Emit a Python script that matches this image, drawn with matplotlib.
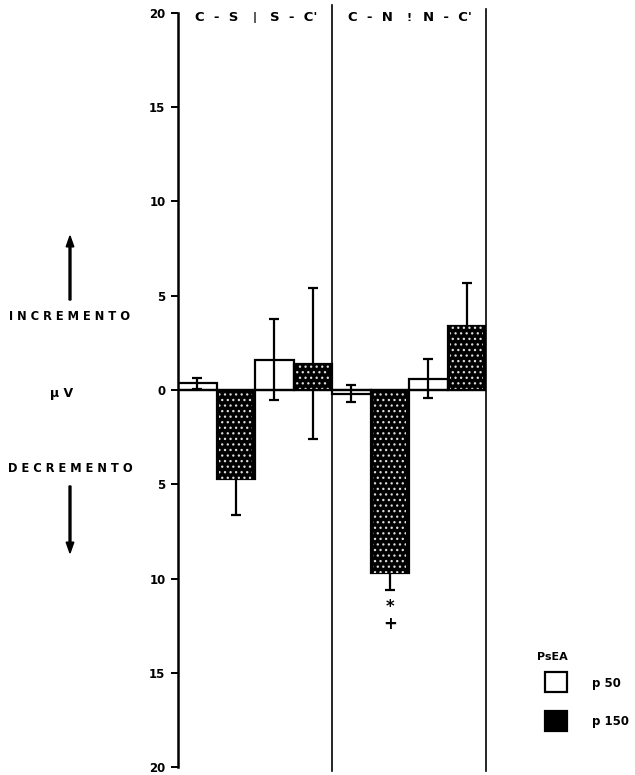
import numpy as np
import matplotlib.pyplot as plt
from matplotlib.patches import FancyArrow, Rectangle

# Cambio de amplitud (uV) por condicion
comparaciones = ["C  -  S", "S  -  C'", "C  -  N", "N  -  C'"]
p50 = [0.35, 1.6, -0.2, 0.6]
p50_err = [0.3, 2.15, 0.45, 1.05]
p150 = [-4.7, 1.4, -9.7, 3.4]
p150_err = [1.95, 4.0, 0.9, 2.3]
ticks = [20, 15, 10, 5, 0, -5, -10, -15, -20]

plt.rcParams['font.family'] = 'DejaVu Sans'
plt.rcParams['font.weight'] = 'bold'
plt.rcParams['hatch.linewidth'] = 0.9

fig = plt.figure(figsize=(6.35, 7.75), dpi=100)
ax = fig.add_axes([178 / 635, 1 - 767 / 775, (486 - 178) / 635, (767 - 13) / 775])

x50 = np.arange(len(comparaciones)) * 2 + 0.5
x150 = x50 + 1

# barras p50 (blancas) con error encima
ax.bar(x50, p50, width=1, color='white', edgecolor='black', linewidth=1.6, zorder=2)
ax.errorbar(x50, p50, yerr=p50_err, fmt='none', ecolor='black', elinewidth=1.6,
            capsize=3.5, capthick=1.6, zorder=3)

# barras p150 (punteadas) con error por debajo
ax.errorbar(x150, p150, yerr=p150_err, fmt='none', ecolor='black', elinewidth=1.6,
            capsize=3.5, capthick=1.6, zorder=1)
ax.bar(x150, p150, width=1, color='black', edgecolor='black', linewidth=1.6, zorder=2)
ax.bar(x150, p150, width=0.85, color='none', edgecolor='#dddddd', hatch='...', linewidth=0, zorder=2.5)

ax.axhline(0, color='black', linewidth=1.6, zorder=4)
ax.axvline(4, ymin=-0.005, ymax=1.01, color='black', linewidth=1.2, clip_on=False)
ax.axvline(8, ymin=-0.005, ymax=1.005, color='black', linewidth=1.2, clip_on=False)

ax.set_xlim(0, 8)
ax.set_ylim(-20, 20)
ax.set_yticks(ticks)
ax.set_yticklabels([str(abs(t)) for t in ticks], fontsize=8.5, fontweight='bold')
ax.tick_params(axis='y', direction='out', length=5, width=1.4, pad=4)
ax.set_xticks([])
ax.spines['top'].set_visible(False)
ax.spines['bottom'].set_visible(False)
ax.spines['right'].set_visible(False)
ax.spines['left'].set_linewidth(1.8)

# encabezados de las comparaciones
for i, c in enumerate(comparaciones):
    ax.text(i * 2 + 1, 19.75, c, ha='center', va='center', fontsize=9.5, fontweight='bold')
ax.text(2, 19.75, '|', ha='center', va='center', fontsize=8)
ax.text(6, 19.75, '!', ha='center', va='center', fontsize=8)

# significancia
ax.text(5.5, -11.5, '*', ha='center', va='center', fontsize=12, fontweight='bold')
ax.text(5.5, -12.4, '+', ha='center', va='center', fontsize=12, fontweight='bold')

# rotulos del lado izquierdo
fig.text(70 / 635, 1 - 317 / 775, 'I N C R E M E N T O', ha='center', va='center', fontsize=8.3, fontweight='bold')
fig.text(70 / 635, 1 - 468 / 775, 'D E C R E M E N T O', ha='center', va='center', fontsize=8.3, fontweight='bold')
fig.text(62 / 635, 1 - 393 / 775, 'µ V', ha='center', va='center', fontsize=9, fontweight='bold')
fig.patches.append(FancyArrow(
    70 / 635, 1 - 300 / 775, 0, 64 / 775, width=0.003, head_width=0.012, head_length=0.014,
    length_includes_head=True, color='black', transform=fig.transFigure, figure=fig))
fig.patches.append(FancyArrow(
    70 / 635, 1 - 486 / 775, 0, -67 / 775, width=0.003, head_width=0.012, head_length=0.014,
    length_includes_head=True, color='black', transform=fig.transFigure, figure=fig))

# leyenda
fig.text(552 / 635, 1 - 657 / 775, 'PsEA', ha='center', va='center', fontsize=8, fontweight='bold')
fig.patches.append(Rectangle((545 / 635, 1 - 692 / 775), 22 / 635, 20 / 775, facecolor='white',
                             edgecolor='black', linewidth=1.6, transform=fig.transFigure, figure=fig))
fig.patches.append(Rectangle((545 / 635, 1 - 731 / 775), 22 / 635, 20 / 775, facecolor='black',
                             edgecolor='black', linewidth=1.6, transform=fig.transFigure, figure=fig))
fig.text(592 / 635, 1 - 683 / 775, 'p 50', ha='left', va='center', fontsize=8.5, fontweight='bold')
fig.text(592 / 635, 1 - 721 / 775, 'p 150', ha='left', va='center', fontsize=8.5, fontweight='bold')

plt.savefig('out.png', dpi=100)
